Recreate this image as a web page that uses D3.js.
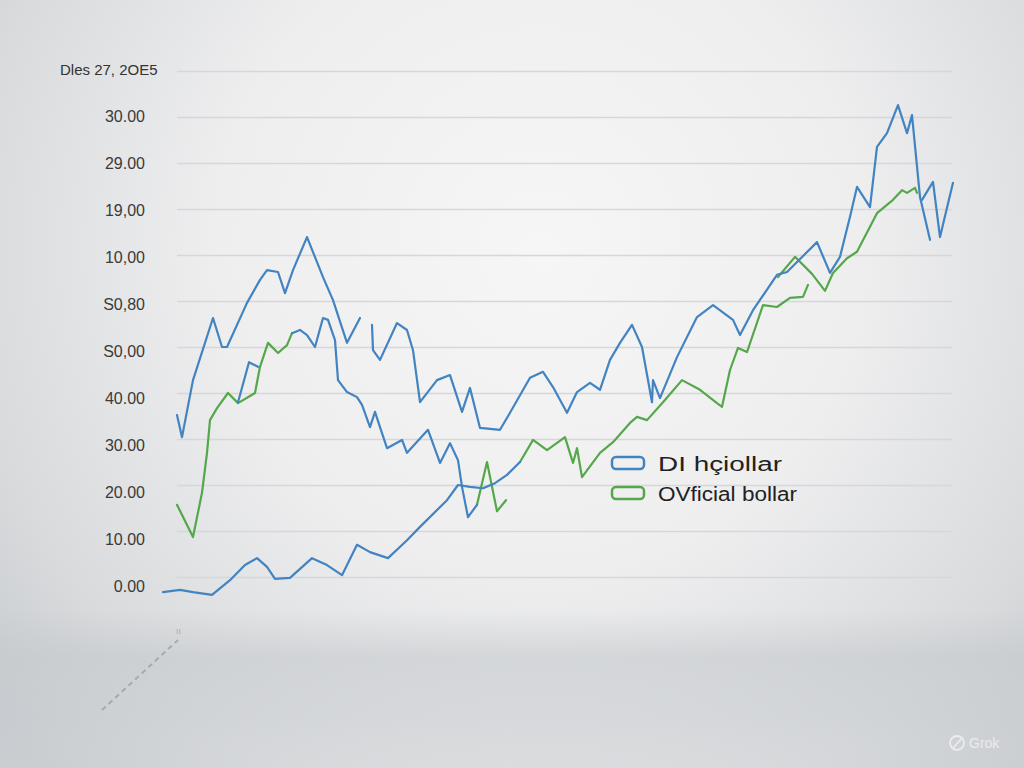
<!DOCTYPE html>
<html>
<head>
<meta charset="utf-8">
<script src="https://cdn.jsdelivr.net/npm/d3@7"></script>
<style>
  html, body { margin: 0; padding: 0; overflow: hidden; }
  svg { display: block; }
</style>
</head>
<body>
<script>
// ---------------- DATA ----------------
const chartTitle = "Dles 27, 2OE5";
const tickValues = [0, 10, 20, 30, 40, 50, 60, 70, 80, 90, 100];
const tickLabels = ["0.00", "10.00", "20.00", "30.00", "40.00", "S0,00", "S0,80", "10,00", "19,00", "29.00", "30.00"];
const gridValues = [0, 10, 20, 30, 40, 50, 60, 70, 80, 90, 100, 110];
const seriesNames = ["DI hçiollar", "OVficial bollar"];

// blue series ("DI hçiollar"), drawn as several broken pieces: [day, value]
const blueSeg1 = [[8.5,35.2],[11,30.4],[16.5,42.8],[26.5,56.3],[31,50.0],[33.5,50.0],[43.5,59.6],[50,64.6],[53.5,66.7],[59,66.3],[62.5,61.7],[66.5,66.7],[73.5,73.9],[81.5,65.2],[86.5,60.2],[93.5,50.9],[100,56.3]];
const blueSeg2 = [[106,54.8],[106.5,49.3],[110,47.2],[118.5,55.2],[123.5,53.7],[126.5,49.3],[130,38.0],[138.5,42.8],[145,43.9],[151,35.9],[155,41.1],[160,32.4],[170,32.0],[175,35.7],[185,43.3],[191.5,44.6],[196.5,41.3],[203.5,35.7],[208.5,40.2],[215,42.2],[220,40.7],[225,47.2],[230,50.9],[236,54.8],[241,50.0],[246,38.0],[246.5,42.8],[250,38.9],[258.5,47.8],[268.5,56.5],[276.5,59.1],[286.5,55.9],[290,52.6],[296.5,58.0],[308.5,65.7],[313.5,66.3],[328.5,72.8],[335,66.1],[340,69.6],[345,78.3],[348.5,84.8],[355,80.4],[358.5,93.5],[363.5,96.5],[369,102.6],[373.5,96.5],[376,100.4],[380,82.6],[385,73.3]];
const blueSeg3 = [[66,53.0],[70,53.7],[73.5,52.6],[77.5,50.0],[81.5,56.3],[84,55.9],[87.5,51.5],[89,42.8],[93.5,40.2],[98.5,39.1],[101,37.4],[105,32.6],[107.5,35.9],[110,32.6],[113.5,28.0],[121,29.8],[123.5,27.0],[134,32.0],[140,24.8],[145,29.1],[149,25.4],[151,19.6],[154,13.0],[158.5,15.7]];
const blueSeg4 = [[1.5,-3.3],[10,-2.8],[16.5,-3.3],[26,-3.9],[35,-0.7],[42.5,2.6],[48.5,4.1],[53.5,2.2],[57.5,-0.4],[65,-0.2],[76,4.1],[83.5,2.6],[91,0.4],[98.5,7.0],[105,5.4],[114,4.1],[123.5,8.0],[130,10.9],[143.5,16.7],[149,20.0],[155,19.6],[161.5,19.3],[167.5,20.4],[173.5,22.2],[180,25.0]];
const blueSeg5 = [[381,82.0],[386.5,85.9],[390,73.9],[396.5,85.7]];
const blueSeg6 = [[39,38.0],[44.5,46.7],[49,45.7]];

// green series ("OVficial bollar")
const greenSeg1 = [[8.5,15.7],[16.5,8.7],[21,18.3],[23.5,27.0],[25,34.1],[28.5,36.7],[34,40.0],[39,37.8],[47.5,40.0],[50,45.7],[54,50.9],[59,48.7],[63.5,50.4],[66,53.0]];
const greenSeg2 = [[158.5,15.7],[163.5,25.0],[168.5,14.3],[173,16.7]];
const greenSeg3 = [[180,25.0],[186.5,29.8],[193.5,27.6],[202.5,30.4],[206.5,24.8],[208.5,28.0],[211,21.7],[220,27.0],[226.5,29.3],[235,33.5],[238.5,34.8],[243.5,34.1],[251.5,38.0],[261,42.8],[270,40.7],[278.5,37.8],[281,37.0],[285,45.0],[289,49.8],[293.5,48.9],[301.5,59.1],[308.5,58.7],[315,60.7],[321.5,60.9],[324,63.5]];
const greenSeg4 = [[309,65.2],[317.5,69.6],[326,65.9],[332.5,62.2],[336.5,66.1],[343.5,69.3],[348.5,70.7],[358.5,79.1],[366.5,82.0],[371,84.1],[373.5,83.5],[377.5,84.6],[378.5,83.5]];

const blueSegments = [blueSeg1, blueSeg2, blueSeg3, blueSeg4, blueSeg5, blueSeg6];
const greenSegments = [greenSeg1, greenSeg2, greenSeg3, greenSeg4];

// ---------------- DRAW ----------------
const W = 1024, H = 768;
const BLUE = "#4283c2", GREEN = "#55a74b";

const svg = d3.select("body").append("svg").attr("width", W).attr("height", H);
const defs = svg.append("defs");

const rg = defs.append("radialGradient").attr("id", "bg").attr("gradientUnits", "userSpaceOnUse")
  .attr("cx", 540).attr("cy", 250).attr("r", 720);
rg.append("stop").attr("offset", "0").attr("stop-color", "#f6f6f6");
rg.append("stop").attr("offset", "0.45").attr("stop-color", "#eeeeef");
rg.append("stop").attr("offset", "0.8").attr("stop-color", "#d8dadc");
rg.append("stop").attr("offset", "1").attr("stop-color", "#c6cace");

const lg = defs.append("linearGradient").attr("id", "bottom").attr("x1", 0).attr("y1", 0).attr("x2", 0).attr("y2", 1);
lg.append("stop").attr("offset", "0").attr("stop-color", "#c4c8cc").attr("stop-opacity", 0);
lg.append("stop").attr("offset", "0.3").attr("stop-color", "#c4c8cc").attr("stop-opacity", 0.55);
lg.append("stop").attr("offset", "0.7").attr("stop-color", "#c9cdd1").attr("stop-opacity", 0.45);
lg.append("stop").attr("offset", "1").attr("stop-color", "#d2d5d8").attr("stop-opacity", 0.3);

svg.append("rect").attr("width", W).attr("height", H).attr("fill", "url(#bg)");
svg.append("rect").attr("y", 610).attr("width", W).attr("height", H - 610).attr("fill", "url(#bottom)");

const x = d3.scaleLinear().domain([0, 400]).range([160, 960]);
const y = d3.scaleLinear().domain([0, 110]).range([577, 71]);
const yLabel = d3.scaleLinear().domain([0, 100]).range([586, 116]);

// gridlines
const gridG = svg.append("g").attr("transform", `translate(${x(396)},0)`)
  .call(d3.axisLeft(y).tickValues(gridValues).tickSize(x(396) - x(8.5)).tickFormat(""));
gridG.select(".domain").remove();
gridG.selectAll(".tick line").attr("stroke", "#d6d7d9").attr("stroke-width", 1.6);

// tick labels
const labG = svg.append("g").attr("transform", "translate(145,0)")
  .call(d3.axisLeft(yLabel).tickValues(tickValues).tickSize(0).tickPadding(0)
    .tickFormat((d, i) => tickLabels[i]));
labG.select(".domain").remove();
labG.selectAll(".tick text")
  .attr("font-family", "Liberation Sans, Arial, sans-serif")
  .attr("font-size", 16).attr("fill", "#3a3a3a");

svg.append("text").attr("x", 60).attr("y", 75).text(chartTitle)
  .attr("font-family", "Liberation Sans, Arial, sans-serif")
  .attr("font-size", 15).attr("fill", "#333");

// lines
const line = d3.line().x(d => x(d[0])).y(d => y(d[1]));
svg.append("g").selectAll("path").data(greenSegments).join("path")
  .attr("d", line).attr("fill", "none").attr("stroke", GREEN)
  .attr("stroke-width", 2.2).attr("stroke-linejoin", "round").attr("stroke-linecap", "round");
svg.append("g").selectAll("path").data(blueSegments).join("path")
  .attr("d", line).attr("fill", "none").attr("stroke", BLUE)
  .attr("stroke-width", 2.2).attr("stroke-linejoin", "round").attr("stroke-linecap", "round");

// legend
const legend = svg.append("g").attr("transform", "translate(612,457)");
[BLUE, GREEN].forEach((c, i) => {
  legend.append("rect").attr("x", 0).attr("y", i * 30).attr("width", 32).attr("height", 12)
    .attr("rx", 4).attr("fill", "none").attr("stroke", c).attr("stroke-width", 2.5);
  legend.append("text").attr("x", 46).attr("y", i * 30 + 14).text(seriesNames[i])
    .attr("font-family", "Liberation Sans, Arial, sans-serif")
    .attr("font-size", 20).attr("fill", "#222")
    .attr("textLength", i === 0 ? 124 : 139).attr("lengthAdjust", "spacingAndGlyphs");
});

// faint rotated tick marks in lower left
svg.append("line").attr("x1", 102).attr("y1", 710).attr("x2", 178).attr("y2", 640)
  .attr("stroke", "#7f8388").attr("stroke-width", 2).attr("stroke-dasharray", "5,4").attr("opacity", 0.5);
svg.append("text").attr("x", 176).attr("y", 634).text("ıı")
  .attr("font-family", "Liberation Sans, Arial, sans-serif").attr("font-size", 9).attr("fill", "#8a8e92").attr("opacity", 0.6);

// watermark
const wm = svg.append("g").attr("transform", "translate(957,743)").attr("opacity", 0.75);
wm.append("circle").attr("r", 7).attr("fill", "none").attr("stroke", "#f4f5f6").attr("stroke-width", 1.8);
wm.append("line").attr("x1", -4).attr("y1", 5).attr("x2", 6).attr("y2", -6).attr("stroke", "#f4f5f6").attr("stroke-width", 1.8);
wm.append("text").attr("x", 12).attr("y", 5).text("Grok")
  .attr("font-family", "Liberation Sans, Arial, sans-serif").attr("font-size", 14).attr("fill", "#f4f5f6");
</script>
</body>
</html>
